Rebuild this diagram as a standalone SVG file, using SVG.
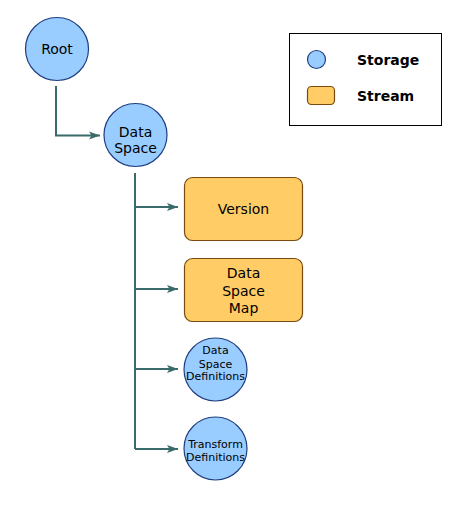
<svg xmlns="http://www.w3.org/2000/svg" width="459" height="512" viewBox="0 0 459 512">
<style>
.st{fill:#99CCFF;stroke:#1F3F7F;stroke-width:1.2}
.sm{fill:#FFCC66;stroke:#7A4A10;stroke-width:1.2}
.t{font-family:"DejaVu Sans",Verdana,sans-serif;font-size:14px;fill:#000;text-anchor:middle}
.ts{font-family:"DejaVu Sans",Verdana,sans-serif;font-size:11px;fill:#000;text-anchor:middle}
.lg{font-family:"DejaVu Sans",Verdana,sans-serif;font-size:14px;font-weight:bold;fill:#000}
.c{fill:none;stroke:#3A6B6B;stroke-width:2}
</style>
<defs>
<marker id="ah" markerWidth="12" markerHeight="10" refX="11" refY="5" orient="auto" markerUnits="userSpaceOnUse">
<path d="M0,1 L11,5 L0,9 L2.5,5 Z" fill="#3A6B6B"/>
</marker>
</defs>
<rect width="459" height="512" fill="#fff"/>
<g id="legend">
<rect x="289.5" y="33.5" width="152" height="92" fill="#fff" stroke="#000" stroke-width="1"/>
<circle class="st" cx="316.5" cy="59.5" r="9"/>
<text class="lg" x="357" y="65">Storage</text>
<rect class="sm" x="307.5" y="86.5" width="27" height="18" rx="4"/>
<text class="lg" x="357" y="101">Stream</text>
</g>
<g id="connectors">
<path class="c" d="M56,86 V135.5 H100" marker-end="url(#ah)"/>
<path class="c" d="M135,173 V449"/>
<path class="c" d="M135,207 H178" marker-end="url(#ah)"/>
<path class="c" d="M135,289 H178" marker-end="url(#ah)"/>
<path class="c" d="M135,369 H178" marker-end="url(#ah)"/>
<path class="c" d="M135,449 H178" marker-end="url(#ah)"/>
</g>
<g id="root">
<circle class="st" cx="57" cy="49" r="31.5"/>
<text class="t" x="57" y="54">Root</text>
</g>
<g id="dataspace">
<circle class="st" cx="135.5" cy="135" r="31.5"/>
<text class="t" x="135.5" y="136.5">Data</text>
<text class="t" x="135.5" y="152.5">Space</text>
</g>
<g id="version">
<rect class="sm" x="184.5" y="177.5" width="118" height="63" rx="8"/>
<text class="t" x="243.5" y="214">Version</text>
</g>
<g id="dataspacemap">
<rect class="sm" x="184.5" y="258.5" width="118" height="63" rx="8"/>
<text class="t" x="243.5" y="278">Data</text>
<text class="t" x="243.5" y="296">Space</text>
<text class="t" x="243.5" y="313">Map</text>
</g>
<g id="dsdefs">
<circle class="st" cx="215.5" cy="369.5" r="31.5"/>
<text class="ts" x="215.5" y="354">Data</text>
<text class="ts" x="215.5" y="367.5">Space</text>
<text class="ts" x="215.5" y="380">Definitions</text>
</g>
<g id="transformdefs">
<circle class="st" cx="215.5" cy="448.5" r="31.5"/>
<text class="ts" x="215.5" y="447.5">Transform</text>
<text class="ts" x="215.5" y="461">Definitions</text>
</g>
</svg>
